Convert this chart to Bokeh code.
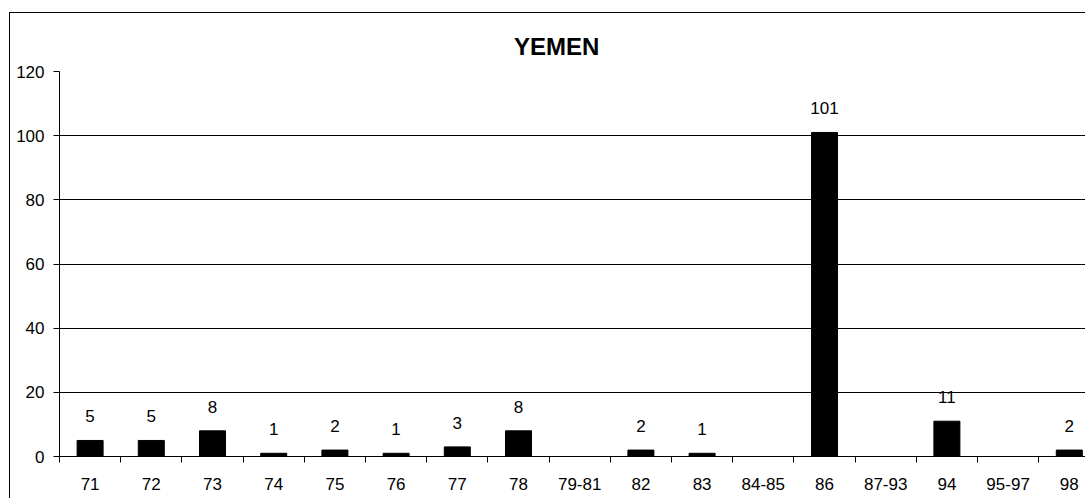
from bokeh.plotting import figure
from bokeh.models import ColumnDataSource, Range1d, FixedTicker
from bokeh.core.properties import value
from bokeh.embed import file_html
from bokeh.resources import INLINE

title = "YEMEN"
categories = ["71", "72", "73", "74", "75", "76", "77", "78", "79-81", "82",
              "83", "84-85", "86", "87-93", "94", "95-97", "98"]
values = [5, 5, 8, 1, 2, 1, 3, 8, 0, 2, 1, 0, 101, 0, 11, 0, 2]
y_ticks = [0, 20, 40, 60, 80, 100, 120]

FONT = "Liberation Sans"

xs = [i + 1 for i in range(len(categories))]
src = ColumnDataSource(dict(x=xs, top=values))
lab_x = [x for x, v in zip(xs, values) if v != 0]
lab_v = [v for v in values if v != 0]
lab_src = ColumnDataSource(dict(x=lab_x, y=lab_v, t=[str(v) for v in lab_v]))

# outer chart-area border offset (page pixels)
OX, OY = 9, 12
W, H = 1086 - OX - 1, 499 - OY - 1
left_b, top_b, bottom_b = 59 - OX - 1, 71 - OY - 1, 43
cat_px = 61.2
frame_w = W - left_b
x_start = 0.5
x_end = x_start + frame_w / cat_px

p = figure(width=W, height=H, output_backend="svg", toolbar_location=None,
           x_range=Range1d(x_start, x_end), y_range=Range1d(0, 120),
           min_border_left=left_b, min_border_right=0,
           min_border_top=top_b, min_border_bottom=bottom_b)
p.styles = {"margin-left": f"{OX}px", "margin-top": f"{OY}px",
            "border-left": "1px solid black", "border-top": "1px solid black"}
p.outline_line_color = None
p.background_fill_color = "white"
p.border_fill_color = "white"

p.title.text = title
p.title.align = "left"
p.title.offset = 556.5 - 59 - 43
p.title.text_font = FONT
p.title.text_font_size = "24px"
p.title.text_font_style = "bold"
p.title.text_color = "black"
p.title.standoff = 23

p.vbar(x="x", top="top", width=0.425, source=src, fill_color="black",
       line_color="black", line_width=1)
p.text(x="x", y="y", text="t", source=lab_src, text_align="center",
       text_baseline="alphabetic", y_offset=-24, text_font_size="17px",
       text_font=value(FONT), text_color="black")

# x axis: labels at centers, ticks at boundaries
xa = p.xaxis[0]
xa.ticker = FixedTicker(ticks=xs, minor_ticks=[x + 0.5 for x in range(len(categories) + 1)])
xa.major_label_overrides = {x: c for x, c in zip(xs, categories)}
xa.major_tick_in = 0
xa.major_tick_out = 0
xa.minor_tick_in = 0
xa.minor_tick_out = 6
xa.minor_tick_line_color = "black"
xa.axis_line_color = "black"
xa.major_label_standoff = 15
xa.major_label_text_font = FONT
xa.major_label_text_font_size = "17px"
xa.major_label_text_color = "black"

ya = p.yaxis[0]
ya.ticker = FixedTicker(ticks=y_ticks)
ya.major_tick_in = 0
ya.major_tick_out = 6
ya.minor_tick_line_color = None
ya.axis_line_color = "black"
ya.major_tick_line_color = "black"
ya.major_label_standoff = 9
ya.major_label_text_font = FONT
ya.major_label_text_font_size = "17px"
ya.major_label_text_color = "black"

p.xgrid.grid_line_color = None
p.ygrid.grid_line_color = "black"
p.ygrid.grid_line_width = 1
p.ygrid.ticker = FixedTicker(ticks=y_ticks)

open("out.html", "w").write(file_html(p, INLINE))
